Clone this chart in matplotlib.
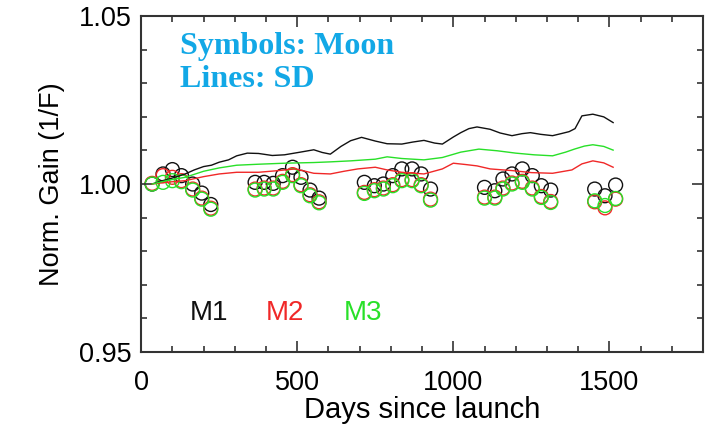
import numpy as np
import matplotlib.pyplot as plt

# SD trend lines (days, normalized gain)
sd_days_m1 = [35, 60, 90, 115, 141, 170, 200, 225, 250, 280, 306, 340, 376, 420, 459, 510, 553, 580, 606, 640, 671, 706, 750,
              788, 835, 870, 906, 940, 965, 1000, 1024, 1050, 1076, 1118, 1150, 1188, 1220, 1247, 1280, 1318, 1345, 1371,
              1390, 1412, 1447, 1482, 1512]
sd_m1 = [1.000, 1.0008, 1.0015, 1.0022, 1.003, 1.0042, 1.0052, 1.0056, 1.0065, 1.0072, 1.0084, 1.0092, 1.0091, 1.0085,
         1.0087, 1.0095, 1.0102, 1.0094, 1.0089, 1.0112, 1.0129, 1.0139, 1.0128, 1.012, 1.0119, 1.0125, 1.013, 1.0122,
         1.0119, 1.0140, 1.0153, 1.0165, 1.017, 1.0163, 1.0152, 1.0144, 1.0150, 1.0153, 1.0148, 1.0144, 1.0150, 1.0156,
         1.0165, 1.0203, 1.0208, 1.0200, 1.0183]
sd_days_m2 = [35, 90, 141, 200, 250, 306, 376, 440, 494, 553, 606, 650, 694, 750, 788, 835, 906, 965, 1000, 1040, 1076, 1118,
              1188, 1250, 1318, 1380, 1412, 1447, 1482, 1512]
sd_m2 = [1.000, 1.0006, 1.001, 1.0022, 1.003, 1.0035, 1.0035, 1.0040, 1.0045, 1.0032, 1.0030, 1.0038, 1.0045, 1.0050, 1.0042,
         1.0035, 1.0030, 1.0045, 1.0062, 1.0058, 1.0054, 1.0045, 1.0040, 1.0034, 1.0032, 1.0042, 1.0060, 1.0069, 1.0063, 1.0050]
sd_days_m3 = [35, 90, 141, 200, 250, 306, 376, 459, 553, 606, 671, 750, 788, 835, 906, 965, 1024, 1082, 1141, 1200, 1259,
              1318, 1360, 1388, 1420, 1447, 1482, 1512]
sd_m3 = [1.000, 1.0012, 1.002, 1.0038, 1.0048, 1.0056, 1.0059, 1.0062, 1.0064, 1.0066, 1.0069, 1.0074, 1.0081, 1.0076, 1.0072,
         1.0079, 1.0095, 1.0104, 1.0099, 1.0092, 1.0087, 1.0084, 1.0095, 1.0104, 1.0113, 1.0117, 1.0112, 1.0101]

# Moon observations
moon_days = [35, 70, 100, 129, 165, 194, 223,
             365, 394, 423, 453, 485, 512, 541, 570,
             715, 747, 776, 806, 835, 868, 897, 927,
             1100, 1133, 1159, 1188, 1221, 1253, 1282, 1312,
             1453, 1486, 1520]
moon_m1 = [1.000, 1.003, 1.0043, 1.0025, 1.000, 0.9973, 0.9939,
           1.0005, 1.0005, 1.0002, 1.0025, 1.005, 1.002, 0.9982, 0.9958,
           1.0005, 0.9995, 1.000, 1.0025, 1.0045, 1.0045, 1.003, 0.9985,
           0.999, 0.998, 1.0015, 1.003, 1.0045, 1.0025, 0.9995, 0.9982,
           0.9985, 0.9965, 0.9997]
moon_m2 = [1.0002, 1.0025, 1.002, 1.001, 0.9985, 0.9958, 0.9928,
           0.9985, 0.9988, 0.9988, 1.0008, 1.0028, 0.9998, 0.9968, 0.9947,
           0.9975, 0.9983, 0.9988, 0.9998, 1.0013, 1.0013, 0.9998, 0.9955,
           0.9961, 0.9961, 0.9988, 1.0003, 1.0008, 0.9988, 0.9963, 0.9948,
           0.9947, 0.9929, 0.9955]
moon_m3 = [1.000, 1.0005, 1.001, 1.0007, 0.9982, 0.9955, 0.9925,
           0.9982, 0.9985, 0.9985, 1.0005, 1.0025, 0.9995, 0.9965, 0.9944,
           0.9972, 0.998, 0.9985, 0.9995, 1.001, 1.001, 0.9995, 0.9952,
           0.9958, 0.9958, 0.9985, 1.000, 1.0005, 0.9985, 0.996, 0.9945,
           0.995, 0.9936, 0.9957]

black = '#111111'
red = '#f02828'
green = '#28e028'

plt.rcParams['font.family'] = ['Liberation Sans', 'DejaVu Sans']

fig = plt.figure(figsize=(7.13, 4.25), dpi=100)
ax = fig.add_axes([0.198, 0.172, 0.788, 0.790])

# lines
ax.plot(sd_days_m1, sd_m1, color=black, lw=1.0)
ax.plot(sd_days_m2, sd_m2, color=red, lw=1.0)
ax.plot(sd_days_m3, sd_m3, color=green, lw=1.0)

# symbols
for vals, c in [(moon_m1, black), (moon_m2, red), (moon_m3, green)]:
    ax.scatter(moon_days, vals, s=100, facecolors='none', edgecolors=c, linewidths=1.0)

ax.set_xlim(0, 1800)
ax.set_ylim(0.95, 1.05)
ax.set_xticks([0, 500, 1000, 1500])
ax.set_xticks(np.arange(0, 1801, 100), minor=True)
ax.set_yticks([0.95, 1.00, 1.05])
ax.set_yticklabels(['0.95', '1.00', '1.05'])
ax.set_yticks(np.arange(0.95, 1.0501, 0.01), minor=True)
ax.tick_params(which='both', direction='in', top=True, right=True, labelsize=19.5, width=1.2, color='#333333')
ax.tick_params(which='major', length=8)
ax.tick_params(axis='x', which='major', pad=13)
ax.tick_params(axis='y', which='major', pad=7)
ax.tick_params(which='minor', length=4)
for s in ax.spines.values():
    s.set_linewidth(1.5)
    s.set_color('#333333')

ax.set_xlabel('Days since launch', fontsize=21, labelpad=0)
ax.set_ylabel('Norm. Gain (1/F)', fontsize=19.5, labelpad=10)

ax.text(125, 1.0411, 'Symbols: Moon', color='#12a8e6', fontsize=23, fontweight='bold',
        family='Liberation Serif', va='center')
ax.text(125, 1.0311, 'Lines: SD', color='#12a8e6', fontsize=23, fontweight='bold',
        family='Liberation Serif', va='center')

ax.text(155, 0.9616, 'M1', color=black, fontsize=20, va='center')
ax.text(398, 0.9616, 'M2', color=red, fontsize=20, va='center')
ax.text(650, 0.9616, 'M3', color=green, fontsize=20, va='center')

fig.savefig('out.png', dpi=100)
